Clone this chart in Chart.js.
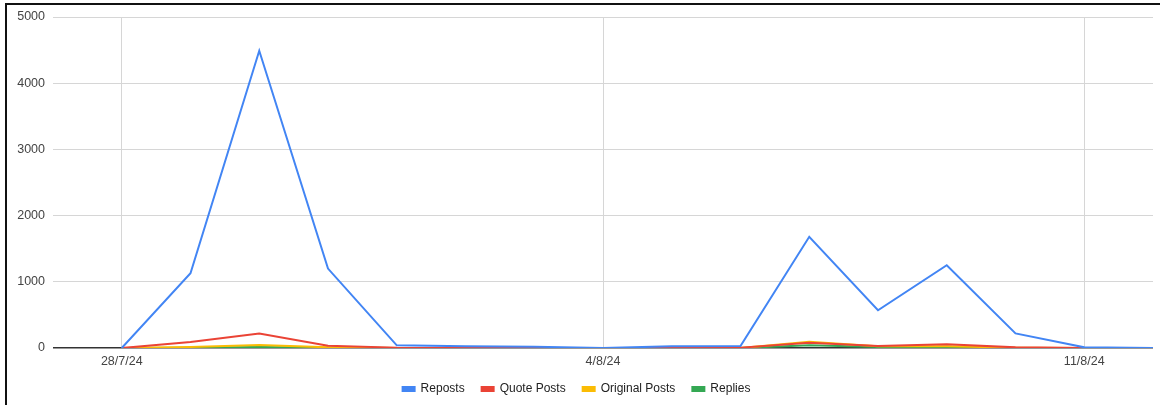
<!DOCTYPE html>
<html>
<head>
<meta charset="utf-8">
<script src="https://cdn.jsdelivr.net/npm/chart.js@4/dist/chart.umd.min.js"></script>
<style>
  html, body { margin: 0; padding: 0; background: #fff; overflow: hidden; }
  #frame { position: absolute; left: 5px; top: 3px; width: 1200px; height: 440px; border: 2px solid #111; }
  #wrap { position: absolute; left: 0; top: 0; width: 1160px; height: 405px; }
</style>
</head>
<body>
<div id="frame"></div>
<div id="wrap"><canvas id="chart" width="1160" height="405"></canvas></div>
<script>
const days = ['28/7/24', '29/7/24', '30/7/24', '31/7/24', '1/8/24', '2/8/24', '3/8/24', '4/8/24',
  '5/8/24', '6/8/24', '7/8/24', '8/8/24', '9/8/24', '10/8/24', '11/8/24', '12/8/24'];
const tickDays = [0, 7, 14];

const reposts = [0, 1130, 4490, 1200, 40, 25, 20, 0, 25, 30, 1680, 570, 1250, 220, 10, 0];
const quotePosts = [0, 90, 220, 35, 5, 0, 0, 0, 0, 5, 80, 30, 55, 10, 0, 0];
const originalPosts = [0, 15, 45, 10, 0, 0, 0, 0, 0, 0, 95, 25, 25, 5, 0, 0];
const replies = [0, 5, 15, 5, 0, 0, 0, 0, 0, 0, 40, 15, 20, 0, 0, 0];

const toPoints = arr => arr.map((v, i) => ({x: i, y: v}));

const series = [
  {label: 'Reposts', data: reposts, color: '#4285f4'},
  {label: 'Quote Posts', data: quotePosts, color: '#ea4335'},
  {label: 'Original Posts', data: originalPosts, color: '#fbbc04'},
  {label: 'Replies', data: replies, color: '#34a853'}
];

Chart.defaults.font.family = 'Arial, "Liberation Sans", sans-serif';

const ctx = document.getElementById('chart').getContext('2d');
const chart = new Chart(ctx, {
  type: 'line',
  data: {
    datasets: series.map(s => ({
      label: s.label,
      data: toPoints(s.data),
      borderColor: s.color,
      backgroundColor: s.color,
      borderWidth: 2,
      pointRadius: 0,
      tension: 0
    }))
  },
  options: {
    responsive: false,
    animation: false,
    layout: {padding: {top: 17, right: 7, left: 0, bottom: 0}},
    scales: {
      x: {
        type: 'linear',
        min: -1,
        max: 15,
        afterBuildTicks: axis => { axis.ticks = tickDays.map(v => ({value: v})); },
        afterFit: axis => { axis.height = 18; },
        ticks: {
          callback: v => days[v],
          color: '#444',
          font: {size: 12.5},
          padding: 6,
          maxRotation: 0,
          autoSkip: false
        },
        grid: {color: '#d6d6d6', drawTicks: false},
        border: {display: false}
      },
      y: {
        min: 0,
        max: 5000,
        afterFit: axis => { axis.width = 53; },
        ticks: {stepSize: 1000, color: '#444', font: {size: 12.5}, padding: 8, callback: v => String(v)},
        grid: {
          color: c => c.tick && c.tick.value === 0 ? '#333' : '#d6d6d6',
          lineWidth: c => c.tick && c.tick.value === 0 ? 1.5 : 1,
          drawTicks: false
        },
        border: {display: false}
      }
    },
    plugins: {
      legend: {
        position: 'bottom',
        labels: {
          boxWidth: 12,
          boxHeight: 4,
          padding: 17,
          color: '#222',
          font: {size: 12}
        }
      },
      tooltip: {enabled: false}
    }
  }
});
</script>
</body>
</html>
